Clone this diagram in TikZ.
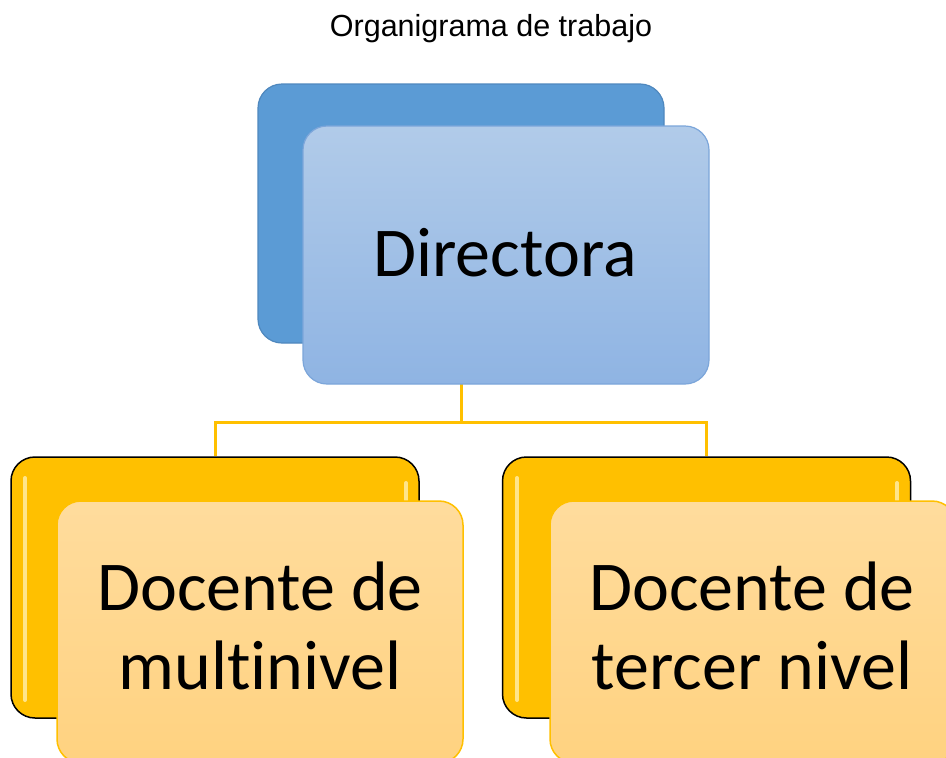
\documentclass[tikz,border=0pt]{standalone}
\usepackage{fontspec}
\setmainfont{Liberation Sans}
\newfontfamily\boxfont[Ligatures=NoCommon]{Carlito}
\definecolor{bluedark}{HTML}{5B9BD5}
\definecolor{blueedge}{HTML}{4F88BE}
\definecolor{bluetop}{HTML}{B1CBE9}
\definecolor{bluebot}{HTML}{8FB4E3}
\definecolor{bluefedge}{HTML}{7CA6DA}
\definecolor{gold}{HTML}{FFC000}
\definecolor{goldlight}{HTML}{FFE58A}
\definecolor{peachtop}{HTML}{FFDC9D}
\definecolor{peachbot}{HTML}{FFD280}
\begin{document}
\begin{tikzpicture}[x=1pt,y=-1pt,
  backblue/.style={draw=blueedge,line width=1.2pt,fill=bluedark,rounded corners=24pt,minimum width=406pt,minimum height=259pt,inner sep=0pt},
  frontblue/.style={draw=bluefedge,line width=1.2pt,top color=bluetop,bottom color=bluebot,rounded corners=24pt,minimum width=406pt,minimum height=258pt,inner sep=0pt},
  backgold/.style={draw=black,line width=1.5pt,fill=gold,rounded corners=24pt,minimum width=408pt,minimum height=261pt,inner sep=0pt},
  frontgold/.style={draw=gold,line width=1.5pt,top color=peachtop,bottom color=peachbot,rounded corners=24pt,minimum width=406pt,minimum height=262pt,inner sep=0pt},
  boxtext/.style={font=\boxfont\fontsize{70}{80}\selectfont,anchor=base,inner sep=0pt},
  conn/.style={draw=gold,line width=3pt}]
\useasboundingbox (0,0) rectangle (946,758);
\fill[white] (0,0) rectangle (946,758);
\clip (0,0) rectangle (946,758);
% title
\node[font=\fontsize{30.5}{36}\selectfont,anchor=base,inner sep=0pt] (title) at (491,36) {Organigrama de trabajo};
% connectors
\node[backblue] (dirB) at (461,213.5) {};
\coordinate (dirBot) at (461,384);
\coordinate (split) at (461,422);
\node[backgold] (lB) at (215,587.5) {};
\node[backgold] (rB) at (706.5,587.5) {};
\draw[conn] (dirBot) -- (split);
\draw[conn] (split) -| (lB.north);
\draw[conn] (split) -| (rB.north);
% top boxes
\node[frontblue] (dirF) at (506,255) {};
\node[boxtext] (dirT) at (505,276) {Directora};
% left boxes
\draw[goldlight,line width=4pt,line cap=round] (25,478) -- (25,700);
\draw[goldlight,line width=4pt,line cap=round] (406,483) -- (406,500);
\node[frontgold] (lF) at (260,632) {};
\node[boxtext] (lT1) at (260,610) {Docente de};
\node[boxtext] (lT2) at (260,689) {multinivel};
% right boxes
\draw[goldlight,line width=4pt,line cap=round] (517,478) -- (517,700);
\draw[goldlight,line width=4pt,line cap=round] (897,483) -- (897,500);
\node[frontgold] (rF) at (753,632) {};
\node[boxtext] (rT1) at (752,610) {Docente de};
\node[boxtext] (rT2) at (752,689) {tercer nivel};
\end{tikzpicture}
\end{document}
